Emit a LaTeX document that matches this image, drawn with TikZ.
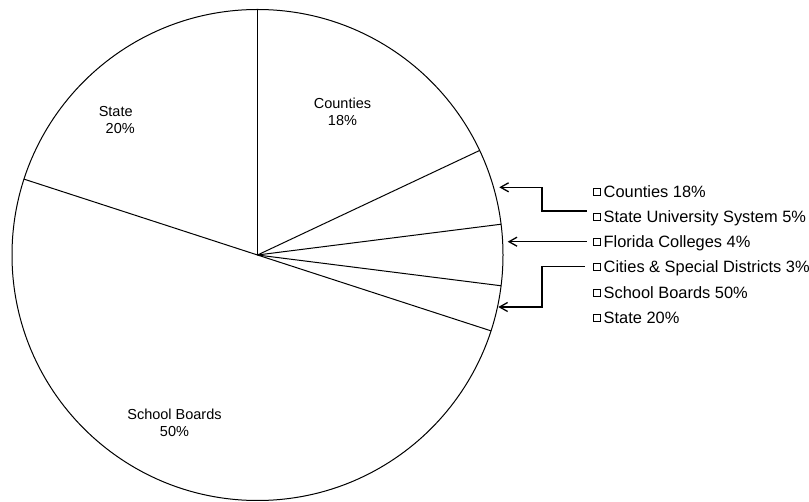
\documentclass[tikz,border=0pt]{standalone}
\usepackage{fontspec}
\setmainfont{Liberation Sans}
\usetikzlibrary{arrows.meta}
\begin{document}
\begin{tikzpicture}[x=1pt,y=-1pt,
  lbl/.style={font=\fontsize{14.5}{17}\selectfont, align=center, inner sep=0pt},
  legtext/.style={font=\fontsize{16.4}{18}\selectfont, anchor=base west, inner sep=0pt},
  legbox/.style={draw, line width=0.7pt, minimum size=7pt, inner sep=0pt},
  outline/.style={line width=1pt},
  pointer/.style={line width=1.3pt, {Straight Barb[length=8pt,width=9pt]}-}]
\useasboundingbox (0,0) rectangle (809,502);
\fill[white] (0,0) rectangle (809,502);
% pie
\coordinate (c) at (257.5,255);
\draw[outline] (c) circle[radius=245.5];
\foreach \a in {90,25.2,7.2,-7.2,-18,162}{
  \draw[outline] (c) -- ++(-\a:245.5);
}
% slice labels
\node[lbl] (counties) at (342.5,111.4) {Counties\\18\%};
\node[lbl] (state) at (115.7,120.5) {State\\\hspace*{9pt}20\%};
\node[lbl] (school) at (174.5,423.3) {School Boards\\50\%};
% legend
\foreach \i/\y/\t in {1/191.7/Counties 18\%,
                      2/216.7/State University System 5\%,
                      3/241.7/Florida Colleges 4\%,
                      4/266.7/Cities \& Special Districts 3\%,
                      5/293.0/School Boards 50\%,
                      6/318.3/State 20\%}{
  \node[legbox] (b\i) at (597,\y) {};
  \node[legtext] (l\i) at (603.5,\y+5.6) {\t};
}
% pointers
\coordinate (t1) at (499.3,187.3);
\coordinate (t2) at (507.7,241.7);
\coordinate (t3) at (498.3,307);
\draw[pointer] (t1) -- ++(42.7,0) |- ([xshift=-6pt,yshift=5.7pt]b2.west);
\draw[pointer] (t2) -- ([xshift=-6pt]b3.west);
\draw[pointer] (t3) -- ++(43.7,0) |- ([xshift=-8pt]b4.west);
\end{tikzpicture}
\end{document}
